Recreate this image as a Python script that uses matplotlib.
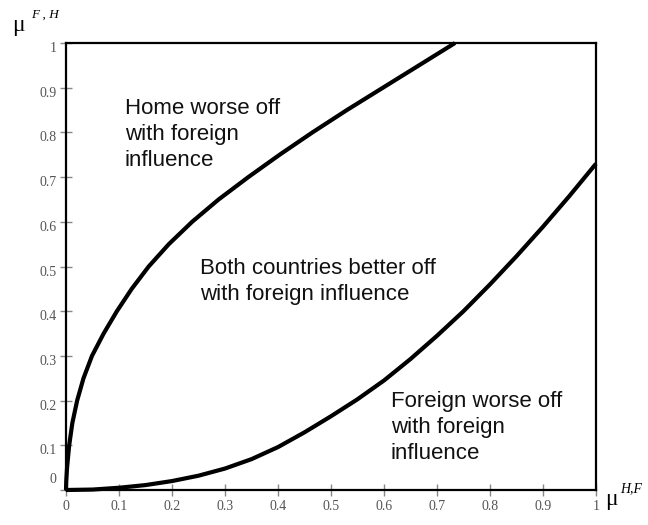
import matplotlib
matplotlib.use("Agg")
import matplotlib.pyplot as plt
from matplotlib.transforms import offset_copy

# lower boundary: foreign indifferent, mu_F,H as a function of mu_H,F
lower_x = [0, 0.05, 0.1, 0.15, 0.2, 0.25, 0.3, 0.35, 0.4, 0.45, 0.5,
           0.55, 0.6, 0.65, 0.7, 0.75, 0.8, 0.85, 0.9, 0.95, 1.0]
lower_y = [0, 0.001, 0.005, 0.011, 0.02, 0.032, 0.048, 0.069, 0.096, 0.129,
           0.165, 0.203, 0.245, 0.293, 0.345, 0.40, 0.46, 0.523, 0.589,
           0.658, 0.73]

# upper boundary: home indifferent
upper_y = [0, 0.02, 0.05, 0.1, 0.15, 0.2, 0.25, 0.3, 0.35, 0.4, 0.45, 0.5,
           0.55, 0.6, 0.65, 0.7, 0.75, 0.8, 0.85, 0.9, 0.95, 1.0]
upper_x = [0, 0.0005, 0.002, 0.006, 0.012, 0.021, 0.033, 0.049, 0.071, 0.096,
           0.124, 0.156, 0.194, 0.238, 0.288, 0.344, 0.403, 0.465, 0.530,
           0.598, 0.666, 0.734]

ticks = [0, 0.1, 0.2, 0.3, 0.4, 0.5, 0.6, 0.7, 0.8, 0.9, 1]
tick_labels = ["0", "0.1", "0.2", "0.3", "0.4", "0.5", "0.6", "0.7", "0.8",
               "0.9", "1"]

# region captions, anchored at the baseline of their last line (axes fraction)
regions = [
    (0.111, 0.725, "Home worse off\nwith foreign\ninfluence"),
    (0.253, 0.425, "Both countries better off\nwith foreign influence"),
    (0.613, 0.069, "Foreign worse off\nwith foreign\ninfluence"),
]

DPI = 100
fig = plt.figure(figsize=(6.48, 5.25), dpi=DPI)
ax = fig.add_axes([66 / 648, 35 / 525, 530 / 648, 447 / 525])

for xs, ys in [(lower_x, lower_y), (upper_x, upper_y)]:
    ax.plot(xs, ys, color="black", lw=3, solid_capstyle="butt",
            solid_joinstyle="round", clip_on=False)

ax.set_xlim(0, 1)
ax.set_ylim(0, 1)
for s in ax.spines.values():
    s.set_linewidth(1.6)

ax.set_xticks(ticks)
ax.set_xticklabels(tick_labels)
ax.set_yticks(ticks)
ax.set_yticklabels(tick_labels)
ax.tick_params(direction="inout", length=8, width=1, color="#888888",
               labelcolor="#555555", labelsize=10, pad=3)
for lab in ax.get_xticklabels() + ax.get_yticklabels():
    lab.set_family("Liberation Serif")

# y labels sit a little below their ticks; the 0 label sits above the axis
for val, lab in zip(ticks, ax.get_yticklabels()):
    dy = 12 if val == 0 else -4
    lab.set_transform(offset_copy(lab.get_transform(), fig=fig, x=0, y=dy,
                                  units="dots"))

for x, y, txt in regions:
    ax.text(x, y, txt, transform=ax.transAxes, ha="left", va="baseline",
            family="Liberation Sans", fontsize=16, linespacing=1.31,
            color="#111111")

# axis symbols
fig.text(12 / 648, 1 - 31 / 525, "\u03bc", family="Liberation Serif",
         fontsize=17, ha="left", va="baseline")
fig.text(31 / 648, 1 - 18 / 525, "F , H", family="Liberation Serif",
         style="italic", fontsize=9.5, ha="left", va="baseline")
fig.text(605 / 648, 1 - 505 / 525, "\u03bc", family="Liberation Serif",
         fontsize=17, ha="left", va="baseline")
fig.text(620 / 648, 1 - 492 / 525, "H,F", family="Liberation Serif",
         style="italic", fontsize=10, ha="left", va="baseline")

fig.savefig("out.png", dpi=DPI)
